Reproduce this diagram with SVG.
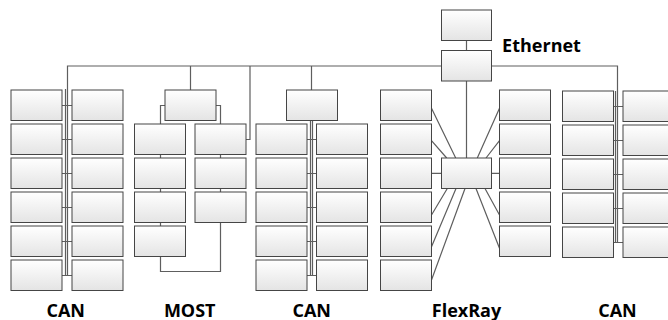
<svg xmlns="http://www.w3.org/2000/svg" width="668" height="320" viewBox="0 0 668 320">
<defs>
<linearGradient id="g" x1="0" y1="0" x2="0" y2="1">
<stop offset="0" stop-color="#ffffff"/>
<stop offset="1" stop-color="#e4e4e4"/>
</linearGradient>
<style>
.b{fill:url(#g);stroke:#454545;stroke-width:1}
.c{fill:none;stroke:#5e5e5e;stroke-width:1.2}
.t{font-family:"Open Sans","Liberation Sans",sans-serif;font-weight:bold;font-size:18px;fill:#000;text-anchor:middle}
</style>
</defs>
<rect width="668" height="320" fill="#ffffff"/>
<g id="connectors" class="c">
<path d="M67.5,275.5 V66 H441.5"/>
<path d="M491.5,66 H617.5 V242.5"/>
<path d="M615.5,91 V242.5"/>
<path d="M613.5,106.5 H623 M613.5,140.5 H623 M613.5,174.5 H623 M613.5,208.5 H623 M613.5,242.5 H623"/>
<path d="M65.5,89 V275.5"/>
<path d="M62,105.5 H72 M62,139.5 H72 M62,173.5 H72 M62,207.5 H72 M62,241.5 H72 M62,275.5 H72"/>
<path d="M190.5,66 V90"/>
<path d="M165,105.5 H160.5 V271.5 H220.5 V105.5 H216"/>
<path d="M250,66 V139.5 H246"/>
<path d="M311.5,66 V90"/>
<path d="M310.5,120.5 V275.5 M312.5,120.5 V275.5"/>
<path d="M306.5,139.5 H316.5 M306.5,173.5 H316.5 M306.5,207.5 H316.5 M306.5,241.5 H316.5 M306.5,275.5 H316.5"/>
<path d="M466.5,40.5 V50.5 M466.5,81 V158"/>
<path d="M431.5,108.3 L455.7,158 M431.5,140.7 L446.7,158 M431.5,173.3 H441.5 M431.5,215 L447.3,188.5 M431.5,246.7 L456,188.5 M431.5,280 L465,188.5"/>
<path d="M499.5,108.3 L477.3,158 M499.5,140.7 L486,158 M491.5,173.3 H499.5 M499.5,215 L485,188.5 M499.5,248.3 L476,188.5"/>
</g>
<g id="can1-a">
<rect class="b" x="11" y="90" width="51" height="30.5"/>
<rect class="b" x="11" y="124" width="51" height="30.5"/>
<rect class="b" x="11" y="158" width="51" height="30.5"/>
<rect class="b" x="11" y="192" width="51" height="30.5"/>
<rect class="b" x="11" y="226" width="51" height="30.5"/>
<rect class="b" x="11" y="260" width="51" height="30.5"/>
</g>
<g id="can1-b">
<rect class="b" x="72" y="90" width="51" height="30.5"/>
<rect class="b" x="72" y="124" width="51" height="30.5"/>
<rect class="b" x="72" y="158" width="51" height="30.5"/>
<rect class="b" x="72" y="192" width="51" height="30.5"/>
<rect class="b" x="72" y="226" width="51" height="30.5"/>
<rect class="b" x="72" y="260" width="51" height="30.5"/>
</g>
<g id="most-top"><rect class="b" x="165" y="90" width="51" height="30.5"/></g>
<g id="most-a">
<rect class="b" x="134.5" y="124" width="51" height="30.5"/>
<rect class="b" x="134.5" y="158" width="51" height="30.5"/>
<rect class="b" x="134.5" y="192" width="51" height="30.5"/>
<rect class="b" x="134.5" y="226" width="51" height="30.5"/>
</g>
<g id="most-b">
<rect class="b" x="195" y="124" width="51" height="30.5"/>
<rect class="b" x="195" y="158" width="51" height="30.5"/>
<rect class="b" x="195" y="192" width="51" height="30.5"/>
</g>
<g id="can2-top"><rect class="b" x="286.5" y="90" width="51" height="30.5"/></g>
<g id="can2-a">
<rect class="b" x="256" y="124" width="51" height="30.5"/>
<rect class="b" x="256" y="158" width="51" height="30.5"/>
<rect class="b" x="256" y="192" width="51" height="30.5"/>
<rect class="b" x="256" y="226" width="51" height="30.5"/>
<rect class="b" x="256" y="260" width="51" height="30.5"/>
</g>
<g id="can2-b">
<rect class="b" x="316.5" y="124" width="51" height="30.5"/>
<rect class="b" x="316.5" y="158" width="51" height="30.5"/>
<rect class="b" x="316.5" y="192" width="51" height="30.5"/>
<rect class="b" x="316.5" y="226" width="51" height="30.5"/>
<rect class="b" x="316.5" y="260" width="51" height="30.5"/>
</g>
<g id="eth-top"><rect class="b" x="441.5" y="10" width="50" height="30.5"/></g>
<g id="eth-switch"><rect class="b" x="441.5" y="50.5" width="50" height="30.5"/></g>
<g id="flexray-hub"><rect class="b" x="441.5" y="158" width="50" height="30.5"/></g>
<g id="flexray-a">
<rect class="b" x="380.5" y="90" width="51" height="30.5"/>
<rect class="b" x="380.5" y="124" width="51" height="30.5"/>
<rect class="b" x="380.5" y="158" width="51" height="30.5"/>
<rect class="b" x="380.5" y="192" width="51" height="30.5"/>
<rect class="b" x="380.5" y="226" width="51" height="30.5"/>
<rect class="b" x="380.5" y="260" width="51" height="30.5"/>
</g>
<g id="flexray-b">
<rect class="b" x="499.5" y="90" width="51" height="30.5"/>
<rect class="b" x="499.5" y="124" width="51" height="30.5"/>
<rect class="b" x="499.5" y="158" width="51" height="30.5"/>
<rect class="b" x="499.5" y="192" width="51" height="30.5"/>
<rect class="b" x="499.5" y="226" width="51" height="30.5"/>
</g>
<g id="can3-a">
<rect class="b" x="562.5" y="91" width="51" height="30.5"/>
<rect class="b" x="562.5" y="125" width="51" height="30.5"/>
<rect class="b" x="562.5" y="159" width="51" height="30.5"/>
<rect class="b" x="562.5" y="193" width="51" height="30.5"/>
<rect class="b" x="562.5" y="227" width="51" height="30.5"/>
</g>
<g id="can3-b">
<rect class="b" x="623" y="91" width="51" height="30.5"/>
<rect class="b" x="623" y="125" width="51" height="30.5"/>
<rect class="b" x="623" y="159" width="51" height="30.5"/>
<rect class="b" x="623" y="193" width="51" height="30.5"/>
<rect class="b" x="623" y="227" width="51" height="30.5"/>
</g>
<g id="labels">
<text class="t" x="541.5" y="51.5">Ethernet</text>
<text class="t" x="65.7" y="316.5">CAN</text>
<text class="t" x="189.7" y="316.5">MOST</text>
<text class="t" x="311.7" y="316.5">CAN</text>
<text class="t" x="466.5" y="316.5">FlexRay</text>
<text class="t" x="617.5" y="316.5">CAN</text>
</g>
</svg>
